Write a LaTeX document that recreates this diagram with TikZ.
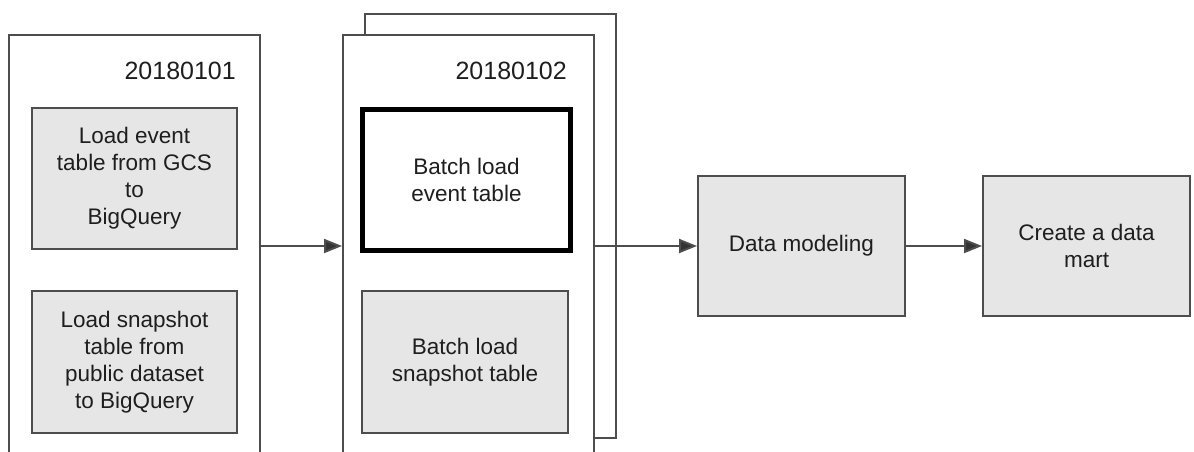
\documentclass[tikz,border=0pt]{standalone}
\usepackage{fontspec}
\setmainfont{Liberation Sans}
\usetikzlibrary{arrows.meta}
\definecolor{linegray}{HTML}{4D4D4D}
\definecolor{arrowgray}{HTML}{333333}
\definecolor{boxfill}{HTML}{E6E6E6}
\definecolor{txt}{HTML}{1E1E1E}
\tikzset{
  container/.style={draw=linegray, line width=2pt, fill=white, rectangle, anchor=north west, inner sep=0pt},
  taskbox/.style={draw=linegray, line width=2pt, fill=boxfill, rectangle, anchor=north west, inner sep=0pt,
    text=txt, font=\fontsize{22.5}{27}\selectfont, align=center},
  boldbox/.style={draw=black, line width=5pt, fill=white, rectangle, anchor=north west, inner sep=0pt,
    text=txt, font=\fontsize{22.5}{27}\selectfont, align=center},
  datelabel/.style={text=txt, font=\fontsize{25}{30}\selectfont, anchor=east, inner sep=0pt},
  flow/.style={draw=linegray, line width=2pt, -{Triangle[length=18pt,width=14pt,fill=arrowgray]}, color=linegray}
}
\begin{document}
\begin{tikzpicture}[x=1pt,y=-1pt]
\useasboundingbox (0,0) rectangle (1194,451);
\begin{scope}
\clip (0,0) rectangle (1194,451);
% left container
\node[container, minimum width=251pt, minimum height=450pt] (c1) at (8,34) {};
\node[datelabel] (d1) at (236,71) {20180101};
\node[taskbox, minimum width=205pt, minimum height=141pt] (b1) at (31,107) {Load event\\table from GCS\\to\\BigQuery};
\node[taskbox, minimum width=205pt, minimum height=142pt] (b2) at (31,290) {Load snapshot\\table from\\public dataset\\to BigQuery};
% back container
\node[container, minimum width=251pt, minimum height=424pt] (c2b) at (364,13) {};
% front container
\node[container, minimum width=251pt, minimum height=450pt] (c2) at (342,34) {};
\node[datelabel] (d2) at (567,71) {20180102};
\node[boldbox, minimum width=208pt, minimum height=141pt] (b3) at (360,107) {Batch load\\event table};
\node[taskbox, minimum width=206pt, minimum height=142pt] (b4) at (361,290) {Batch load\\snapshot table};
% right boxes
\node[taskbox, minimum width=207pt, minimum height=140pt] (dm) at (697,175) {Data modeling};
\node[taskbox, minimum width=207pt, minimum height=140pt] (cm) at (982,175) {Create a data\\mart};
% arrows
\draw[flow] (c1.east |- dm.west) -- (c2.west |- dm.west);
\draw[flow] (c2.east |- dm.west) -- (dm.west);
\draw[flow] (dm.east) -- (cm.west);
\end{scope}
\end{tikzpicture}
\end{document}
